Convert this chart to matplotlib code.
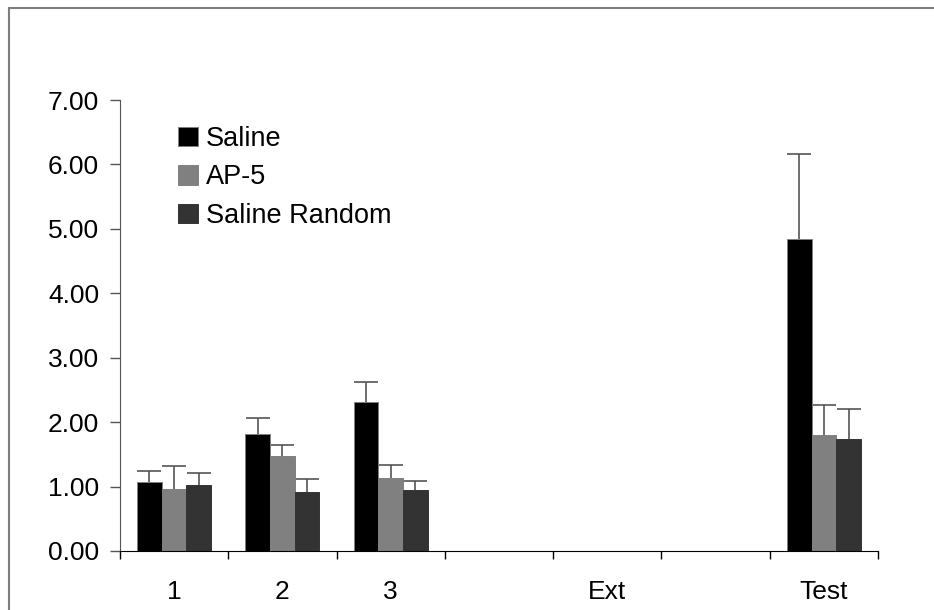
import matplotlib.pyplot as plt
import numpy as np
from matplotlib.patches import Rectangle

plt.rcParams['font.family'] = ['Liberation Sans', 'DejaVu Sans']

# Data (blank slots are spacer categories)
categories = ['1', '2', '3', '', 'Ext', '', 'Test']
saline = [1.07, 1.81, 2.31, np.nan, np.nan, np.nan, 4.84]
saline_err = [0.17, 0.25, 0.32, np.nan, np.nan, np.nan, 1.32]
ap5 = [0.96, 1.47, 1.14, np.nan, np.nan, np.nan, 1.80]
ap5_err = [0.36, 0.18, 0.19, np.nan, np.nan, np.nan, 0.47]
saline_random = [1.02, 0.92, 0.95, np.nan, np.nan, np.nan, 1.74]
saline_random_err = [0.19, 0.20, 0.13, np.nan, np.nan, np.nan, 0.47]
series_names = ['Saline', 'AP-5', 'Saline Random']
y_ticks = [0, 1, 2, 3, 4, 5, 6, 7]

fig = plt.figure(figsize=(9.34, 6.10), dpi=100)
ax = fig.add_axes([120 / 934, 1 - 551 / 610, (878 - 120) / 934, (551 - 100) / 610])

# border around the chart area (only top/left visible in the reference)
fig.patches.append(Rectangle((9 / 934, -0.05), 1.2, 1 - 8 / 610 + 0.05,
                             transform=fig.transFigure, fill=False,
                             edgecolor='#7f7f7f', linewidth=1.5))

x = np.arange(len(categories))
width = 0.228
colors = ['#000000', '#808080', '#333333']
edges = ['#7f7f7f', '#808080', '#333333']
handles = []
for i, (vals, errs) in enumerate([(saline, saline_err), (ap5, ap5_err),
                                  (saline_random, saline_random_err)]):
    vals = np.array(vals)
    errs = np.array(errs)
    pos = x + (i - 1) * width
    b = ax.bar(pos, vals, width, color=colors[i], edgecolor=edges[i],
               linewidth=0.7, zorder=2)
    handles.append(b)
    eb = ax.errorbar(pos, vals, yerr=[np.zeros_like(errs), errs], fmt='none',
                     ecolor='#555555', elinewidth=1.2, capsize=8.6,
                     capthick=1.2, zorder=1)
    # plus-only error bars: hide the cap sitting on the bar top
    eb[1][0].set_visible(False)

ax.set_xlim(-0.5, len(categories) - 0.5)
ax.set_ylim(0, 7)
ax.set_yticks(y_ticks)
ax.set_yticklabels([f'{v:.2f}' for v in y_ticks])
ax.set_xticks(x)
ax.set_xticklabels(categories)
ax.set_xticks(np.arange(-0.5, len(categories), 1), minor=True)

ax.tick_params(axis='x', which='major', length=0, pad=21, labelsize=19)
ax.tick_params(axis='x', which='minor', length=6, width=1, direction='out')
ax.tick_params(axis='y', length=7, width=1, direction='out', pad=8,
               labelsize=19, color='#555555')

for s in ['top', 'right']:
    ax.spines[s].set_visible(False)
ax.spines['left'].set_color('#555555')
ax.spines['bottom'].set_color('black')

ax.legend(handles, series_names, loc='upper left',
          bbox_to_anchor=(178 / 934, 1 - 126 / 610),
          bbox_transform=fig.transFigure, frameon=False, fontsize=19.5,
          handlelength=0.74, handleheight=0.74, handletextpad=0.3,
          labelspacing=0.46, borderpad=0, borderaxespad=0)

fig.savefig('out.png', dpi=100)
